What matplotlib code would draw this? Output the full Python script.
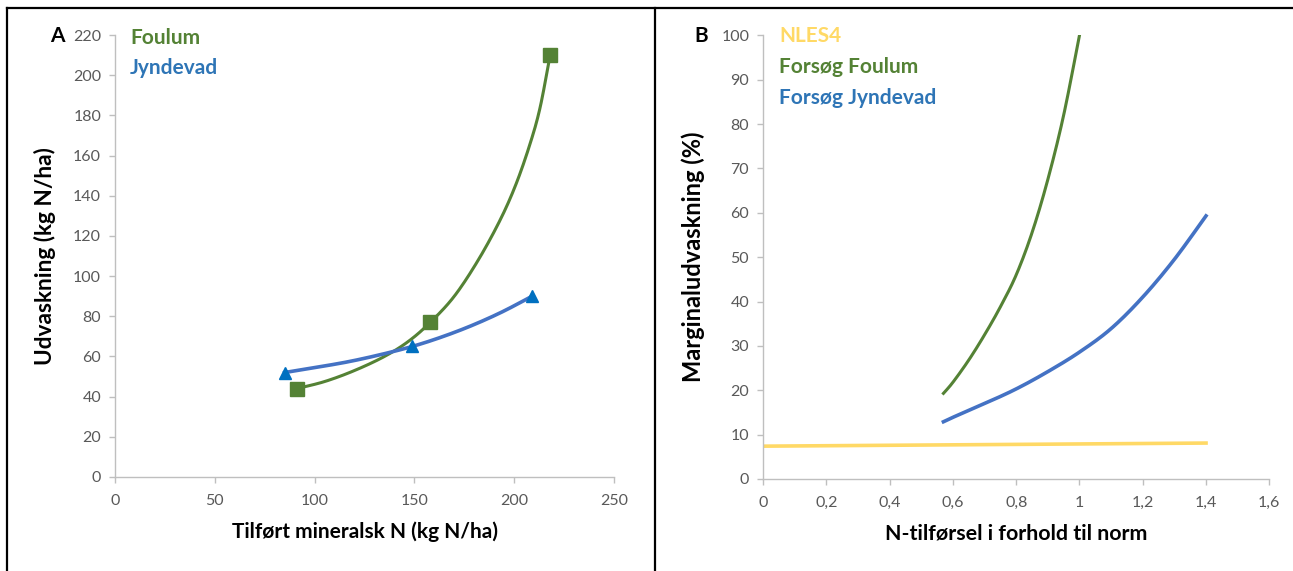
import numpy as np
import matplotlib
matplotlib.use("Agg")
import matplotlib.pyplot as plt
from matplotlib.lines import Line2D

plt.rcParams['font.family'] = ['Lato', 'DejaVu Sans']

# ---- Panel A data ----
# measured points (markers)
foulum_x = [91, 158, 218]
foulum_y = [44, 77, 210]
jyndevad_x = [85, 149, 209]
jyndevad_y = [52, 65, 90]
# fitted curves
foulum_curve_x = [91, 105, 120, 135, 147, 158, 170, 182, 193, 201, 208, 213, 218]
foulum_curve_y = [44, 47.5, 53, 60, 67.5, 77, 90, 108, 128, 146, 166, 184, 210]
jynd_curve_x = [85, 101, 117, 133, 149, 164, 179, 194, 209]
jynd_curve_y = [52, 54.6, 57.4, 60.9, 65, 69.8, 75.5, 82.2, 90]
a_xticks = [0, 50, 100, 150, 200, 250]
a_yticks = [0, 20, 40, 60, 80, 100, 120, 140, 160, 180, 200, 220]

# ---- Panel B data ----
nles4_x = [0.0, 1.4]
nles4_y = [7.4, 8.1]
b_foulum_x = [0.57, 0.6, 0.65, 0.7, 0.75, 0.8, 0.85, 0.9, 0.95, 1.0]
b_foulum_y = [19.3, 21.8, 26.8, 32.5, 38.8, 46.0, 55.5, 67.5, 82.0, 100.0]
b_jynd_x = [0.57, 0.6, 0.7, 0.8, 0.9, 1.0, 1.1, 1.2, 1.3, 1.4]
b_jynd_y = [12.9, 13.9, 17.0, 20.3, 24.2, 28.6, 33.9, 41.0, 49.5, 59.3]
b_xticks = [0, 0.2, 0.4, 0.6, 0.8, 1.0, 1.2, 1.4, 1.6]
b_xticklabels = ['0', '0,2', '0,4', '0,6', '0,8', '1', '1,2', '1,4', '1,6']
b_yticks = [0, 10, 20, 30, 40, 50, 60, 70, 80, 90, 100]

GREEN = '#548235'
BLUE_LINE = '#4472C4'
BLUE_MARK = '#0070C0'
BLUE_TXT = '#2E75B6'
YELLOW = '#FFD966'
GREY = '#BFBFBF'
TICKTXT = '#595959'


def smooth(x, y, n=20):
    """Smoothed line (Catmull-Rom Bezier) through the given points."""
    P = np.column_stack([np.asarray(x, float), np.asarray(y, float)])
    out = [P[0]]
    m = len(P)
    t = np.linspace(0, 1, n)[1:]
    for i in range(m - 1):
        p0 = P[i - 1] if i > 0 else P[i]
        p1, p2 = P[i], P[i + 1]
        p3 = P[i + 2] if i + 2 < m else P[i + 1]
        c1 = p1 + (p2 - p0) / 6.0
        c2 = p2 - (p3 - p1) / 6.0
        for tt in t:
            b = ((1 - tt) ** 3) * p1 + 3 * ((1 - tt) ** 2) * tt * c1 \
                + 3 * (1 - tt) * tt ** 2 * c2 + tt ** 3 * p2
            out.append(b)
    out = np.array(out)
    return out[:, 0], out[:, 1]


W, H = 1293, 571
fig = plt.figure(figsize=(W / 100, H / 100), dpi=100)


def fx(px):
    return px / W


def fy(py):
    return 1 - py / H


# panel borders
for xs, ys in [([7, 7], [8, 571]), ([7, 1293], [8, 8]), ([655, 655], [8, 571])]:
    fig.add_artist(Line2D([fx(v) for v in xs], [fy(v) for v in ys], color='black', lw=1.6,
                          transform=fig.transFigure))


def style_axes(ax):
    for s in ['top', 'right']:
        ax.spines[s].set_visible(False)
    for s in ['left', 'bottom']:
        ax.spines[s].set_color(GREY)
        ax.spines[s].set_linewidth(1.0)
    ax.tick_params(axis='both', colors=GREY, labelcolor=TICKTXT, labelsize=11.5, length=4, width=1.0)
    ax.tick_params(axis='x', pad=8)
    ax.tick_params(axis='y', pad=6)


# ---- Panel A ----
axA = fig.add_axes([115 / W, (H - 477) / H, 499 / W, 442 / H])
sx, sy = smooth(foulum_curve_x, foulum_curve_y)
axA.plot(sx, sy, color=GREEN, lw=2.2)
axA.plot(foulum_x, foulum_y, ls='none', marker='s', ms=9.5, color=GREEN, mec=GREEN)
sx, sy = smooth(jynd_curve_x, jynd_curve_y)
axA.plot(sx, sy, color=BLUE_LINE, lw=2.6)
axA.plot(jyndevad_x, jyndevad_y, ls='none', marker='^', ms=8.5, color=BLUE_MARK, mec=BLUE_MARK)
axA.set_xlim(0, 250)
axA.set_ylim(0, 220)
axA.set_xticks(a_xticks)
axA.set_yticks(a_yticks)
style_axes(axA)
axA.set_xlabel('Tilført mineralsk N (kg N/ha)', fontsize=15, fontweight='bold', labelpad=10)
axA.set_ylabel('Udvaskning (kg N/ha)', fontsize=16.3, fontweight='bold', labelpad=12)
fig.text(fx(57), fy(36), 'A', fontsize=15, fontweight='bold', ha='center', va='center')
fig.text(fx(130), fy(37.5), 'Foulum', fontsize=15, fontweight='bold', color=GREEN, va='center')
fig.text(fx(130), fy(68.5), 'Jyndevad', fontsize=15, fontweight='bold', color=BLUE_TXT, va='center')

# ---- Panel B ----
axB = fig.add_axes([763.1 / W, (H - 479) / H, 506.2 / W, 443.7 / H])
axB.plot(nles4_x, nles4_y, color=YELLOW, lw=2.6)
sx, sy = smooth(b_foulum_x, b_foulum_y)
axB.plot(sx, sy, color=GREEN, lw=2.2)
sx, sy = smooth(b_jynd_x, b_jynd_y)
axB.plot(sx, sy, color=BLUE_LINE, lw=2.6)
axB.set_xlim(0, 1.6)
axB.set_ylim(0, 100)
axB.set_xticks(b_xticks)
axB.set_xticklabels(b_xticklabels)
axB.set_yticks(b_yticks)
style_axes(axB)
axB.set_xlabel('N-tilførsel i forhold til norm', fontsize=15.4, fontweight='bold', labelpad=10)
axB.set_ylabel('Marginaludvaskning (%)', fontsize=17, fontweight='bold', labelpad=12)
fig.text(fx(701), fy(36), 'B', fontsize=15, fontweight='bold', ha='center', va='center')
fig.text(fx(779), fy(36.4), 'NLES4', fontsize=15, fontweight='bold', color=YELLOW, va='center')
fig.text(fx(779), fy(67.4), 'Forsøg Foulum', fontsize=15, fontweight='bold', color=GREEN, va='center')
fig.text(fx(779), fy(97.6), 'Forsøg Jyndevad', fontsize=15, fontweight='bold', color=BLUE_TXT, va='center')

fig.savefig('out.png', dpi=100)
